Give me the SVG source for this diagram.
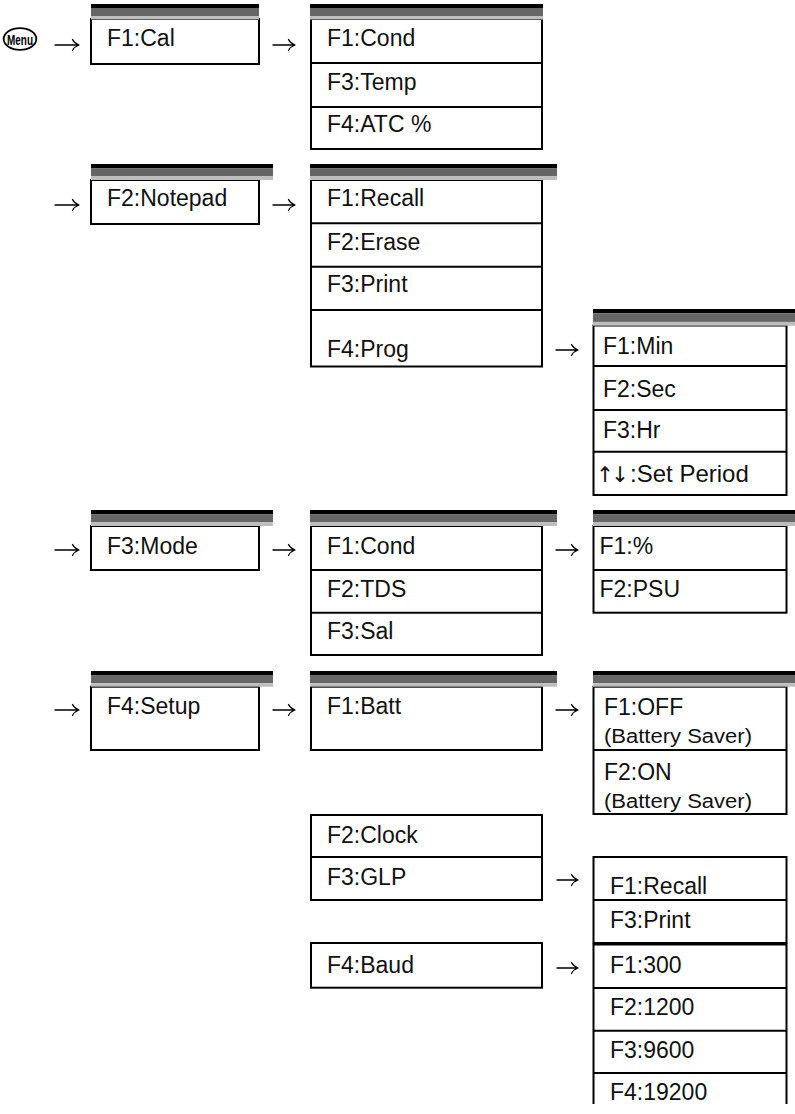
<svg xmlns="http://www.w3.org/2000/svg" width="795" height="1114" viewBox="0 0 795 1114">
<defs>
<style>
.bx{fill:#fff;stroke:#000;stroke-width:2}
.ln{fill:none;stroke:#000;stroke-width:2}
.t{font-family:"Liberation Sans",Arial,Helvetica,sans-serif;font-size:23px;fill:#111}
.s{font-family:"Liberation Sans",Arial,Helvetica,sans-serif;font-size:19.5px;fill:#111}
.hb{fill:#000}
.hd{fill:#666}
.hl{fill:#bdbdbd}
.ar{fill:none;stroke:#000;stroke-width:1.3;stroke-linecap:round;stroke-linejoin:round}
</style>
<symbol id="hdr" viewBox="0 0 100 15.5" preserveAspectRatio="none" overflow="visible">
<rect class="hb" x="0" y="0" width="100" height="4"/>
<rect class="hd" x="0" y="4" width="100" height="8"/>
<rect class="hl" x="0" y="12" width="100" height="3.5"/>
</symbol>
</defs>
<rect width="795" height="1114" fill="#fff"/>

<g id="menu-key">
<ellipse cx="20" cy="39" rx="16.3" ry="10.8" fill="#fff" stroke="#000" stroke-width="1.8"/>
<text x="7" y="45" font-family="Liberation Sans,Arial,sans-serif" font-weight="bold" font-size="15" textLength="26" lengthAdjust="spacingAndGlyphs" fill="#000">Menu</text>
</g>

<!-- Row 1 -->
<g id="cal">
<rect class="bx" x="91" y="19" width="168" height="45"/>
<use href="#hdr" x="91" y="4" width="168" height="15.5"/>
<text class="t" x="107" y="46">F1:Cal</text>
</g>
<g id="cal-sub">
<rect class="bx" x="311" y="19" width="231" height="130"/>
<line class="ln" x1="311" y1="63" x2="542" y2="63"/>
<line class="ln" x1="311" y1="107" x2="542" y2="107"/>
<use href="#hdr" x="310" y="4" width="233" height="15.5"/>
<text class="t" x="327" y="46">F1:Cond</text>
<text class="t" x="327" y="90">F3:Temp</text>
<text class="t" x="327" y="131.5">F4:ATC %</text>
</g>

<!-- Row 2 -->
<g id="notepad">
<rect class="bx" x="91" y="180" width="168" height="44"/>
<use href="#hdr" x="91" y="164" width="182" height="16"/>
<text class="t" x="107" y="206">F2:Notepad</text>
</g>
<g id="notepad-sub">
<rect class="bx" x="311" y="180" width="231" height="186.5"/>
<line class="ln" x1="311" y1="223.3" x2="542" y2="223.3"/>
<line class="ln" x1="311" y1="266.7" x2="542" y2="266.7"/>
<line class="ln" x1="311" y1="310" x2="542" y2="310"/>
<use href="#hdr" x="310" y="164" width="247" height="16"/>
<text class="t" x="327" y="206">F1:Recall</text>
<text class="t" x="327" y="250">F2:Erase</text>
<text class="t" x="327" y="291.5">F3:Print</text>
<text class="t" x="327" y="356.5">F4:Prog</text>
</g>
<g id="prog-sub">
<rect class="bx" x="593.5" y="325.5" width="193" height="169.5"/>
<line class="ln" x1="593.5" y1="366" x2="786.5" y2="366"/>
<line class="ln" x1="593.5" y1="410" x2="786.5" y2="410"/>
<line class="ln" x1="593.5" y1="451.7" x2="786.5" y2="451.7"/>
<use href="#hdr" x="593" y="309" width="202" height="16.7"/>
<text class="t" x="603" y="354.3">F1:Min</text>
<text class="t" x="603" y="396.7">F2:Sec</text>
<text class="t" x="603" y="438.3">F3:Hr</text>
<text class="t" x="596" y="481.7"><tspan font-family="DejaVu Sans,sans-serif" font-size="21.5" letter-spacing="-3">↑↓</tspan><tspan dx="4" font-size="24">:Set Period</tspan></text>
</g>

<!-- Row 3 -->
<g id="mode">
<rect class="bx" x="91" y="526" width="168" height="44"/>
<use href="#hdr" x="91" y="510" width="182" height="16"/>
<text class="t" x="107" y="554">F3:Mode</text>
</g>
<g id="mode-sub">
<rect class="bx" x="311" y="526" width="231" height="129"/>
<line class="ln" x1="311" y1="570" x2="542" y2="570"/>
<line class="ln" x1="311" y1="612.7" x2="542" y2="612.7"/>
<use href="#hdr" x="310" y="510" width="247" height="16"/>
<text class="t" x="327" y="554">F1:Cond</text>
<text class="t" x="327" y="596.7">F2:TDS</text>
<text class="t" x="327" y="639.3">F3:Sal</text>
</g>
<g id="cond-sub">
<rect class="bx" x="593.5" y="526" width="193" height="86.7"/>
<line class="ln" x1="593.5" y1="570" x2="786.5" y2="570"/>
<use href="#hdr" x="593" y="510" width="202" height="16"/>
<text class="t" x="599.5" y="554">F1:%</text>
<text class="t" x="599.5" y="596.7">F2:PSU</text>
</g>

<!-- Row 4 -->
<g id="setup">
<rect class="bx" x="91" y="686.7" width="168" height="63.3"/>
<use href="#hdr" x="91" y="671" width="182" height="15.7"/>
<text class="t" x="107" y="714">F4:Setup</text>
</g>
<g id="batt">
<rect class="bx" x="311" y="686.7" width="231" height="63.3"/>
<use href="#hdr" x="310" y="671" width="247" height="15.7"/>
<text class="t" x="327" y="714">F1:Batt</text>
</g>
<g id="batt-sub">
<rect class="bx" x="593.5" y="686.7" width="193" height="127.3"/>
<line class="ln" x1="593.5" y1="750" x2="786.5" y2="750"/>
<use href="#hdr" x="593" y="671" width="202" height="15.7"/>
<text class="t" x="604" y="715">F1:OFF</text>
<text class="s" x="604" y="743" textLength="148" lengthAdjust="spacingAndGlyphs">(Battery Saver)</text>
<text class="t" x="604" y="780">F2:ON</text>
<text class="s" x="604" y="808" textLength="148" lengthAdjust="spacingAndGlyphs">(Battery Saver)</text>
</g>
<g id="clock-glp">
<rect class="bx" x="311" y="815" width="231" height="85"/>
<line class="ln" x1="311" y1="857" x2="542" y2="857"/>
<text class="t" x="327" y="842.7">F2:Clock</text>
<text class="t" x="327" y="885">F3:GLP</text>
</g>
<g id="glp-sub">
<rect class="bx" x="593.5" y="857" width="193" height="86"/>
<line class="ln" x1="593.5" y1="900" x2="786.5" y2="900"/>
<text class="t" x="610" y="893.5">F1:Recall</text>
<text class="t" x="610" y="928">F3:Print</text>
</g>
<g id="baud">
<rect class="bx" x="311" y="943" width="231" height="44.7"/>
<text class="t" x="327" y="973">F4:Baud</text>
</g>
<g id="baud-sub">
<path class="ln" d="M593.5,1104 V944.5 H786.5 V1104"/>
<line class="ln" x1="593.5" y1="988" x2="786.5" y2="988"/>
<line class="ln" x1="593.5" y1="1030.7" x2="786.5" y2="1030.7"/>
<line class="ln" x1="593.5" y1="1073" x2="786.5" y2="1073"/>
<text class="t" x="610" y="973">F1:300</text>
<text class="t" x="610" y="1015">F2:1200</text>
<text class="t" x="610" y="1058">F3:9600</text>
<text class="t" x="610" y="1100">F4:19200</text>
</g>

<g id="connectors">
<path class="ar" d="M55,45 H78.5 M72.5,39.5 Q74.5,43.5 79,45 Q74.5,46.5 72.5,50.5"/>
<path class="ar" d="M273,45 H294.5 M288.5,39.5 Q290.5,43.5 295,45 Q290.5,46.5 288.5,50.5"/>
<path class="ar" d="M55,205 H78.5 M72.5,199.5 Q74.5,203.5 79,205 Q74.5,206.5 72.5,210.5"/>
<path class="ar" d="M273,205 H294.5 M288.5,199.5 Q290.5,203.5 295,205 Q290.5,206.5 288.5,210.5"/>
<path class="ar" d="M556,350 H577.5 M571.5,344.5 Q573.5,348.5 578,350 Q573.5,351.5 571.5,355.5"/>
<path class="ar" d="M55,550 H78.5 M72.5,544.5 Q74.5,548.5 79,550 Q74.5,551.5 72.5,555.5"/>
<path class="ar" d="M273,550 H294.5 M288.5,544.5 Q290.5,548.5 295,550 Q290.5,551.5 288.5,555.5"/>
<path class="ar" d="M556,550 H577.5 M571.5,544.5 Q573.5,548.5 578,550 Q573.5,551.5 571.5,555.5"/>
<path class="ar" d="M55,710 H78.5 M72.5,704.5 Q74.5,708.5 79,710 Q74.5,711.5 72.5,715.5"/>
<path class="ar" d="M273,710 H294.5 M288.5,704.5 Q290.5,708.5 295,710 Q290.5,711.5 288.5,715.5"/>
<path class="ar" d="M556,710 H577.5 M571.5,704.5 Q573.5,708.5 578,710 Q573.5,711.5 571.5,715.5"/>
<path class="ar" d="M557,880 H577.5 M571.5,874.5 Q573.5,878.5 578,880 Q573.5,881.5 571.5,885.5"/>
<path class="ar" d="M557,968 H577.5 M571.5,962.5 Q573.5,966.5 578,968 Q573.5,969.5 571.5,973.5"/>
</g>
</svg>
